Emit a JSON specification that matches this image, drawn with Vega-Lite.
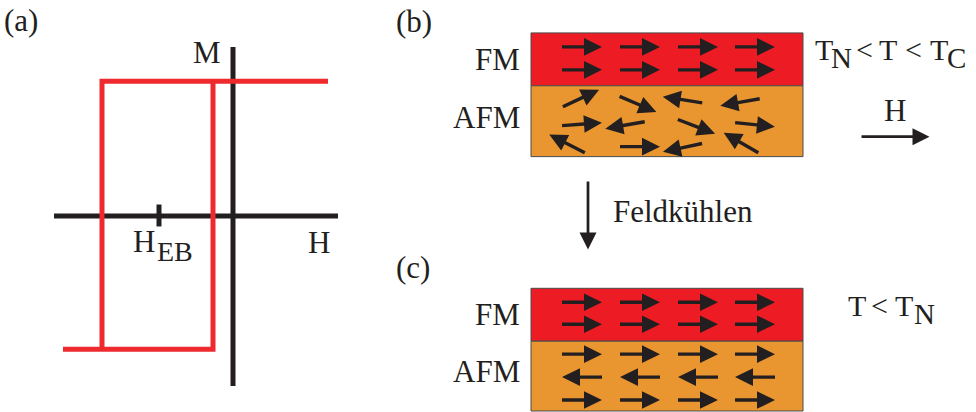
{
  "$schema": "https://vega.github.io/schema/vega-lite/v6.json",
  "width": 976,
  "height": 412,
  "autosize": {"type": "fit", "contains": "padding"},
  "padding": 0,
  "background": "white",
  "config": {"view": {"stroke": null}},
  "datasets": {
    "layers": [
      {"panel": "b", "layer": "FM", "x0": 531, "x1": 803, "y0": 33, "y1": 86},
      {"panel": "b", "layer": "AFM", "x0": 531, "x1": 803, "y0": 86, "y1": 157},
      {"panel": "c", "layer": "FM", "x0": 531, "x1": 803, "y0": 289, "y1": 342},
      {"panel": "c", "layer": "AFM", "x0": 531, "x1": 803, "y0": 342, "y1": 412}
    ],
    "axes": [
      {"name": "M axis", "x0": 233, "y0": 47, "x1": 233, "y1": 387},
      {"name": "H axis", "x0": 54, "y0": 216.5, "x1": 338, "y1": 216.5},
      {"name": "H_EB tick", "x0": 159, "y0": 205, "x1": 159, "y1": 227}
    ],
    "loop": [
      {"branch": "down", "step": 1, "H": 328, "M": 81.5},
      {"branch": "down", "step": 2, "H": 102, "M": 81.5},
      {"branch": "down", "step": 3, "H": 102, "M": 350},
      {"branch": "up", "step": 1, "H": 63, "M": 350},
      {"branch": "up", "step": 2, "H": 213, "M": 350},
      {"branch": "up", "step": 3, "H": 213, "M": 81.5}
    ],
    "spins": [
      {"panel": "b", "layer": "FM", "x": 582, "y": 47, "angle": 0},
      {"panel": "b", "layer": "FM", "x": 640, "y": 47, "angle": 0},
      {"panel": "b", "layer": "FM", "x": 698, "y": 47, "angle": 0},
      {"panel": "b", "layer": "FM", "x": 755, "y": 47, "angle": 0},
      {"panel": "b", "layer": "FM", "x": 582, "y": 70, "angle": 0},
      {"panel": "b", "layer": "FM", "x": 640, "y": 70, "angle": 0},
      {"panel": "b", "layer": "FM", "x": 698, "y": 70, "angle": 0},
      {"panel": "b", "layer": "FM", "x": 755, "y": 70, "angle": 0},
      {"panel": "b", "layer": "AFM", "x": 581, "y": 98.5, "angle": -25},
      {"panel": "b", "layer": "AFM", "x": 638, "y": 104.5, "angle": 23},
      {"panel": "b", "layer": "AFM", "x": 682.5, "y": 100, "angle": 189},
      {"panel": "b", "layer": "AFM", "x": 740, "y": 102.5, "angle": 170},
      {"panel": "b", "layer": "AFM", "x": 582, "y": 124.5, "angle": -4},
      {"panel": "b", "layer": "AFM", "x": 625, "y": 125.5, "angle": 170},
      {"panel": "b", "layer": "AFM", "x": 696.5, "y": 127, "angle": 21},
      {"panel": "b", "layer": "AFM", "x": 755, "y": 125, "angle": 6},
      {"panel": "b", "layer": "AFM", "x": 567, "y": 144, "angle": 207},
      {"panel": "b", "layer": "AFM", "x": 640, "y": 147, "angle": 0},
      {"panel": "b", "layer": "AFM", "x": 682.5, "y": 148, "angle": 168},
      {"panel": "b", "layer": "AFM", "x": 741, "y": 143, "angle": 210},
      {"panel": "c", "layer": "FM", "x": 582, "y": 303, "angle": 0},
      {"panel": "c", "layer": "FM", "x": 640, "y": 303, "angle": 0},
      {"panel": "c", "layer": "FM", "x": 698, "y": 303, "angle": 0},
      {"panel": "c", "layer": "FM", "x": 755, "y": 303, "angle": 0},
      {"panel": "c", "layer": "FM", "x": 582, "y": 325, "angle": 0},
      {"panel": "c", "layer": "FM", "x": 640, "y": 325, "angle": 0},
      {"panel": "c", "layer": "FM", "x": 698, "y": 325, "angle": 0},
      {"panel": "c", "layer": "FM", "x": 755, "y": 325, "angle": 0},
      {"panel": "c", "layer": "AFM", "x": 582, "y": 355, "angle": 0},
      {"panel": "c", "layer": "AFM", "x": 640, "y": 355, "angle": 0},
      {"panel": "c", "layer": "AFM", "x": 698, "y": 355, "angle": 0},
      {"panel": "c", "layer": "AFM", "x": 755, "y": 355, "angle": 0},
      {"panel": "c", "layer": "AFM", "x": 582, "y": 378, "angle": 180},
      {"panel": "c", "layer": "AFM", "x": 640, "y": 378, "angle": 180},
      {"panel": "c", "layer": "AFM", "x": 698, "y": 378, "angle": 180},
      {"panel": "c", "layer": "AFM", "x": 755, "y": 378, "angle": 180},
      {"panel": "c", "layer": "AFM", "x": 582, "y": 401, "angle": 0},
      {"panel": "c", "layer": "AFM", "x": 640, "y": 401, "angle": 0},
      {"panel": "c", "layer": "AFM", "x": 698, "y": 401, "angle": 0},
      {"panel": "c", "layer": "AFM", "x": 755, "y": 401, "angle": 0}
    ],
    "bigArrows": [
      {"name": "field H", "x": 895.5, "y": 137, "angle": 0},
      {"name": "Feldkühlen", "x": 588, "y": 216, "angle": 90}
    ],
    "labels": [
      {"txt": "(a)", "x": 4, "y": 31, "role": "main"},
      {"txt": "(b)", "x": 396, "y": 32, "role": "main"},
      {"txt": "(c)", "x": 396, "y": 279, "role": "main"},
      {"txt": "M", "x": 193, "y": 63, "role": "main"},
      {"txt": "H", "x": 133, "y": 253, "role": "main"},
      {"txt": "EB", "x": 157, "y": 262, "role": "subHEB"},
      {"txt": "H", "x": 308, "y": 254, "role": "main"},
      {"txt": "FM", "x": 475, "y": 70, "role": "main"},
      {"txt": "AFM", "x": 453, "y": 128, "role": "main"},
      {"txt": "FM", "x": 475, "y": 326, "role": "main"},
      {"txt": "AFM", "x": 453, "y": 383, "role": "main"},
      {"txt": "T", "x": 815, "y": 60, "role": "temp"},
      {"txt": "N", "x": 831, "y": 68, "role": "sub"},
      {"txt": "<", "x": 856, "y": 60, "role": "temp"},
      {"txt": "T", "x": 879, "y": 60, "role": "temp"},
      {"txt": "<", "x": 905, "y": 60, "role": "temp"},
      {"txt": "T", "x": 930, "y": 60, "role": "temp"},
      {"txt": "C", "x": 947, "y": 68, "role": "sub"},
      {"txt": "H", "x": 884, "y": 121, "role": "main"},
      {"txt": "Feldkühlen", "x": 613, "y": 223, "role": "main"},
      {"txt": "T", "x": 848, "y": 317, "role": "temp"},
      {"txt": "<", "x": 871, "y": 317, "role": "temp"},
      {"txt": "T", "x": 895, "y": 317, "role": "temp"},
      {"txt": "N", "x": 914, "y": 325, "role": "sub"}
    ]
  },
  "layer": [
    {
      "data": {"name": "layers"},
      "mark": {"type": "rect", "stroke": "#4a4a4a", "strokeWidth": 1},
      "encoding": {
        "x": {"field": "x0", "type": "quantitative", "scale": {"domain": [0, 976], "nice": false, "zero": false}, "axis": null},
        "x2": {"field": "x1"},
        "y": {"field": "y0", "type": "quantitative", "scale": {"domain": [0, 412], "nice": false, "zero": false, "reverse": true}, "axis": null},
        "y2": {"field": "y1"},
        "color": {"field": "layer", "type": "nominal", "scale": {"domain": ["FM", "AFM"], "range": ["#ed1c24", "#ea9630"]}, "legend": null}
      }
    },
    {
      "data": {"name": "axes"},
      "mark": {"type": "rule", "color": "#231f20", "strokeWidth": 5, "strokeCap": "butt"},
      "encoding": {
        "x": {"field": "x0", "type": "quantitative"},
        "x2": {"field": "x1"},
        "y": {"field": "y0", "type": "quantitative"},
        "y2": {"field": "y1"}
      }
    },
    {
      "data": {"name": "loop"},
      "mark": {"type": "line", "color": "#ee2a2f", "strokeWidth": 5, "strokeCap": "butt", "strokeJoin": "miter"},
      "encoding": {
        "x": {"field": "H", "type": "quantitative"},
        "y": {"field": "M", "type": "quantitative"},
        "detail": {"field": "branch"},
        "order": {"field": "step", "type": "quantitative"}
      }
    },
    {
      "data": {"name": "spins"},
      "mark": {"type": "point", "filled": true, "opacity": 1, "color": "#231f20", "size": 1600,
               "shape": "M-1,-0.085 L0.1,-0.085 L0.1,-0.44 L1,0 L0.1,0.44 L0.1,0.085 L-1,0.085 Z"},
      "encoding": {
        "x": {"field": "x", "type": "quantitative"},
        "y": {"field": "y", "type": "quantitative"},
        "angle": {"field": "angle", "type": "quantitative", "scale": null}
      }
    },
    {
      "data": {"name": "bigArrows"},
      "mark": {"type": "point", "filled": true, "opacity": 1, "color": "#231f20", "size": 4624,
               "shape": "M-1,-0.04 L0.5,-0.04 L0.5,-0.25 L1,0 L0.5,0.25 L0.5,0.04 L-1,0.04 Z"},
      "encoding": {
        "x": {"field": "x", "type": "quantitative"},
        "y": {"field": "y", "type": "quantitative"},
        "angle": {"field": "angle", "type": "quantitative", "scale": null}
      }
    },
    {
      "data": {"name": "labels"},
      "mark": {"type": "text", "font": "Liberation Serif", "color": "#231f20", "align": "left", "baseline": "alphabetic"},
      "encoding": {
        "x": {"field": "x", "type": "quantitative"},
        "y": {"field": "y", "type": "quantitative"},
        "text": {"field": "txt"},
        "size": {"field": "role", "type": "nominal", "scale": {"domain": ["main", "temp", "sub", "subHEB"], "range": [31, 28, 19, 25]}, "legend": null}
      }
    }
  ]
}
